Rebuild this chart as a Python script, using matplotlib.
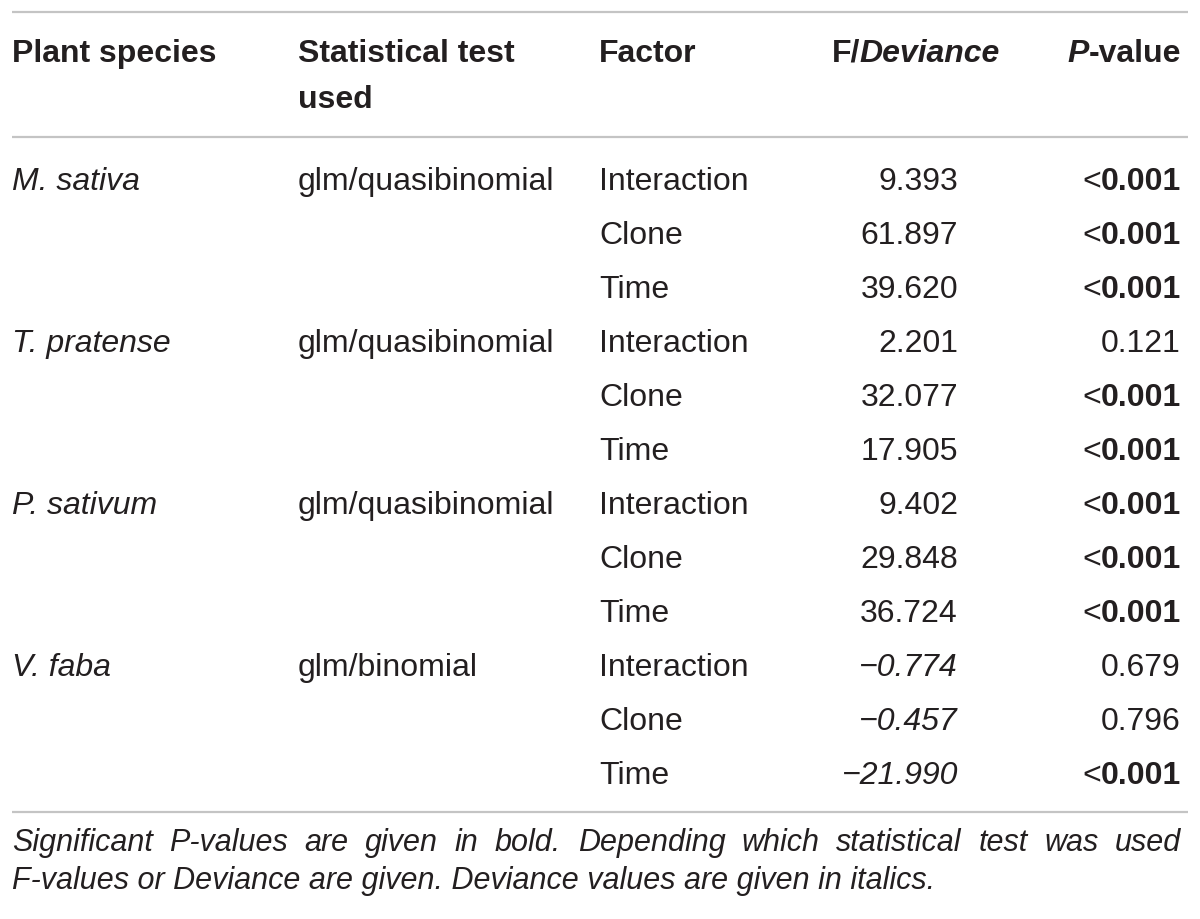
import matplotlib.pyplot as plt

# table contents
species = ['M. sativa', 'T. pratense', 'P. sativum', 'V. faba']
tests = ['glm/quasibinomial', 'glm/quasibinomial', 'glm/quasibinomial', 'glm/binomial']
uses_deviance = [False, False, False, True]
factors = ['Interaction', 'Clone', 'Time']
f_values = [9.393, 61.897, 39.620,
            2.201, 32.077, 17.905,
            9.402, 29.848, 36.724,
            -0.774, -0.457, -21.990]
p_values = ['<0.001', '<0.001', '<0.001',
            '0.121', '<0.001', '<0.001',
            '<0.001', '<0.001', '<0.001',
            '0.679', '0.796', '<0.001']
footnote = ['Significant P-values are given in bold. Depending which statistical test was used',
            'F-values or Deviance are given. Deviance values are given in italics.']

plt.rcParams['font.family'] = ['Liberation Sans', 'DejaVu Sans']
FS = 23
INK = '#231f20'
RULE = '#c4c4c4'

fig = plt.figure(figsize=(12, 9.2), dpi=100)
ax = fig.add_axes([0, 0, 1, 1])
ax.set_xlim(0, 1200)
ax.set_ylim(920, 0)
ax.axis('off')
renderer = fig.canvas.get_renderer()


def txt(x, y, s, ha='left', weight='normal', style='normal', size=FS):
    return ax.text(x, y, s, ha=ha, va='baseline', fontsize=size, color=INK,
                   fontweight=weight, fontstyle=style)


def right_pieces(x, y, pieces, size=FS):
    # draw pieces right to left so the last one ends at x
    for s, w, st in reversed(pieces):
        t = txt(x, y, s, ha='right', weight=w, style=st, size=size)
        bb = t.get_window_extent(renderer)
        x = ax.transData.inverted().transform((bb.x0, bb.y0))[0]


def width_of(s, style='normal', size=FS):
    t = txt(0, 0, s, style=style, size=size)
    bb = t.get_window_extent(renderer)
    t.remove()
    return bb.width


# column positions
x_sp, x_test, x_fac, x_f, x_p = 12, 298, 599, 958, 1181
x_fhead = 1000

# rules
for y in [13, 138, 813]:
    ax.plot([12, 1188], [y, y], color=RULE, lw=1.6, solid_capstyle='butt')

# header
hb = 62
txt(x_sp, hb, 'Plant species', weight='bold')
txt(x_test, hb, 'Statistical test', weight='bold')
txt(x_test, hb + 46, 'used', weight='bold')
txt(x_fac, hb, 'Factor', weight='bold')
right_pieces(x_fhead, hb, [('F/', 'bold', 'normal'), ('Deviance', 'bold', 'italic')])
right_pieces(x_p, hb, [('P', 'bold', 'italic'), ('-value', 'bold', 'normal')])

# body rows
y0, step = 190, 54
for i in range(len(f_values)):
    g = i // 3
    y = y0 + i * step
    if i % 3 == 0:
        txt(x_sp, y, species[g], style='italic')
        txt(x_test, y, tests[g])
    txt(x_fac, y, factors[i % 3])
    style = 'italic' if uses_deviance[g] else 'normal'
    txt(x_f, y, f'{f_values[i]:.3f}'.replace('-', '\u2212'), ha='right', style=style)
    p = p_values[i]
    if p.startswith('<'):
        right_pieces(x_p, y, [('<', 'normal', 'normal'), (p[1:], 'bold', 'normal')])
    else:
        txt(x_p, y, p, ha='right')

# footnote, first line justified
fn_size = 22
words = footnote[0].split()
widths = [width_of(w, 'italic', fn_size) for w in words]
scale = ax.transData.inverted().transform((1, 0))[0] - ax.transData.inverted().transform((0, 0))[0]
total = sum(widths) * scale
gap = (1181 - 12 - total) / (len(words) - 1)
x = 12
for w, wd in zip(words, widths):
    txt(x, 851, w, style='italic', size=fn_size)
    x += wd * scale + gap
txt(12, 889, footnote[1], style='italic', size=fn_size)

fig.savefig('out.png', dpi=100)
